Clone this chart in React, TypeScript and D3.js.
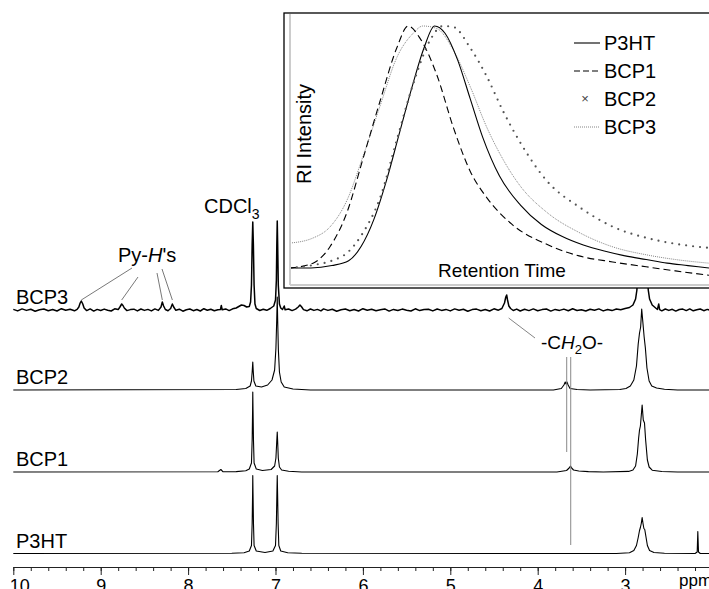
import React, { useEffect, useRef } from 'react';
import * as d3 from 'd3';

type Pt = [number, number];

const FONT = '"Liberation Sans", Arial, Helvetica, sans-serif';

// 1H NMR traces: [ppm, intensity above the trace baseline]
const p3ht: Pt[] = [
  [10.0, 0], [7.5, 0.2], [7.36, 0.8], [7.3, 2.5], [7.275, 8], [7.267, 30], [7.262, 60], [7.26, 78],
  [7.257, 60], [7.252, 30], [7.245, 8], [7.22, 2.5], [7.12, 1], [7.03, 2.5], [7.0, 8], [6.99, 30],
  [6.984, 60], [6.98, 78], [6.976, 60], [6.97, 30], [6.962, 8], [6.94, 2.5], [6.86, 0.8], [6.7, 0.2],
  [3.1, 0], [2.95, 0.8], [2.9, 3], [2.87, 8], [2.85, 16], [2.835, 23], [2.825, 26], [2.815, 30],
  [2.805, 36], [2.795, 30], [2.785, 25], [2.775, 24], [2.76, 16], [2.745, 8], [2.72, 3], [2.67, 1],
  [2.55, 0.3], [2.2, 0], [2.175, 1.5], [2.168, 22], [2.16, 1.5], [2.14, 0], [2.04, 0],
];

const bcp1: Pt[] = [
  [10.0, 0], [7.66, 0.2], [7.625, 2.5], [7.6, 0.2], [7.45, 0.4], [7.34, 1.2], [7.3, 3], [7.275, 9],
  [7.267, 32], [7.262, 62], [7.26, 80], [7.257, 62], [7.252, 32], [7.245, 9], [7.22, 3], [7.15, 1.5],
  [7.05, 2.5], [7.01, 6], [6.995, 14], [6.986, 30], [6.98, 40], [6.975, 30], [6.968, 14], [6.955, 5],
  [6.93, 2], [6.85, 0.8], [6.7, 0], [3.78, 0], [3.67, 1.5], [3.64, 4], [3.625, 6], [3.612, 4],
  [3.59, 2], [3.53, 1], [3.42, 0.4], [3.25, 0], [2.96, 0.6], [2.91, 2], [2.88, 6], [2.86, 18],
  [2.845, 34], [2.835, 42], [2.825, 46], [2.805, 67], [2.792, 52], [2.778, 49], [2.765, 32], [2.745, 12],
  [2.725, 5], [2.69, 1.8], [2.58, 0.5], [2.4, 0], [2.04, 0],
];

const bcp2: Pt[] = [
  [10.0, 0], [7.45, 0.5], [7.34, 1.5], [7.29, 4], [7.275, 9], [7.267, 18], [7.26, 28], [7.254, 18],
  [7.247, 9], [7.225, 4], [7.16, 3], [7.09, 5], [7.04, 10], [7.01, 20], [6.995, 42], [6.986, 70],
  [6.98, 93], [6.975, 70], [6.967, 40], [6.955, 18], [6.935, 8], [6.9, 3], [6.8, 1], [6.6, 0],
  [3.82, 0], [3.73, 1.5], [3.7, 5], [3.685, 8], [3.675, 6], [3.665, 8], [3.652, 5], [3.63, 1.5],
  [3.55, 0.5], [3.4, 0], [3.06, 0.5], [2.99, 1.5], [2.94, 4], [2.9, 10], [2.87, 24], [2.85, 46],
  [2.835, 57], [2.822, 63], [2.81, 81], [2.797, 68], [2.782, 53], [2.768, 42], [2.75, 22], [2.725, 9],
  [2.695, 4], [2.64, 2], [2.55, 0.8], [2.4, 0], [2.04, 0],
];

const bcp3: Pt[] = [
  [10.0, 0.6], [9.95, -0.9], [9.9, 1.1], [9.85, -0.4], [9.8, 0.8], [9.75, -1.2], [9.7, 0.3], [9.65, 1.0],
  [9.6, -0.7], [9.55, 0.5], [9.5, -1.0], [9.45, 1.3], [9.4, -0.3], [9.35, 0.7], [9.3, -0.8], [9.27, 0.6],
  [9.25, 3], [9.235, 7], [9.222, 9], [9.205, 6], [9.19, 2], [9.16, -0.6], [9.12, 1.1], [9.08, -1.1],
  [9.04, 0.6], [9.0, -0.5], [8.96, 0.9], [8.92, -0.2], [8.88, -1.0], [8.84, 1.2], [8.8, 0.4], [8.78, 3],
  [8.76, 6], [8.745, 4.5], [8.73, 2], [8.7, -0.6], [8.66, 0.4], [8.62, 0.8], [8.58, -0.9], [8.54, 1.0],
  [8.5, -0.4], [8.46, 0.6], [8.42, -0.9], [8.38, 1.1], [8.34, -0.4], [8.31, 3], [8.295, 8], [8.28, 4],
  [8.26, 0.5], [8.23, -0.7], [8.2, 1.5], [8.18, 6], [8.165, 3], [8.14, -0.3], [8.1, 0.8], [8.06, -1.2],
  [8.02, 0.3], [7.98, 1.0], [7.94, -0.7], [7.9, 0.5], [7.86, -1.0], [7.82, 1.3], [7.78, -0.3], [7.74, 0.7],
  [7.7, -0.8], [7.66, 0.2], [7.63, 0.5], [7.62, 4.5], [7.61, 0.2], [7.57, 1.1], [7.53, -0.6], [7.49, 1.2],
  [7.45, 2.0], [7.42, 3.5], [7.39, 5], [7.36, 4.5], [7.33, 3], [7.3, 3.5], [7.285, 8], [7.275, 25],
  [7.267, 65], [7.26, 88], [7.253, 65], [7.245, 25], [7.235, 6], [7.22, 1.5], [7.18, -0.5], [7.14, 0.8],
  [7.1, -0.3], [7.06, 1.5], [7.02, 4], [7.0, 10], [6.99, 30], [6.985, 65], [6.98, 89], [6.975, 65],
  [6.968, 25], [6.955, 6], [6.94, 2], [6.92, 0.5], [6.9, 4], [6.89, 0.2], [6.85, 1.0], [6.81, -0.6],
  [6.77, 0.9], [6.74, 3], [6.72, 5], [6.7, 3], [6.68, 0.4], [6.64, -0.8], [6.6, 1.0], [6.56, -0.4],
  [6.52, 0.6], [6.48, -0.9], [6.45, 1.1], [6.4, -0.4], [6.35, 0.8], [6.3, -1.2], [6.25, 0.3], [6.2, 1.0],
  [6.15, -0.7], [6.1, 0.5], [6.05, -1.0], [6.0, 1.3], [5.95, -0.3], [5.9, 0.7], [5.85, -0.8], [5.8, 0.2],
  [5.75, 1.1], [5.7, -1.1], [5.65, 0.6], [5.6, -0.5], [5.55, 0.9], [5.5, -0.2], [5.45, -1.0], [5.4, 1.2],
  [5.35, -0.6], [5.3, 0.4], [5.25, 0.8], [5.2, -0.9], [5.15, 1.0], [5.1, -0.4], [5.05, 0.6], [5.0, -0.9],
  [4.95, 1.1], [4.9, -0.3], [4.85, 0.8], [4.8, -1.2], [4.75, 0.4], [4.7, 0.9], [4.65, -0.7], [4.6, 0.5],
  [4.55, -1.0], [4.5, 1.2], [4.45, -0.2], [4.41, 1.5], [4.38, 7], [4.365, 13], [4.355, 15], [4.345, 10],
  [4.33, 4], [4.31, 1.5], [4.28, -0.5], [4.24, 0.9], [4.2, -1.0], [4.15, 0.7], [4.1, -0.6], [4.05, 1.1],
  [4.0, -0.8], [3.95, 0.4], [3.9, 1.0], [3.85, -1.1], [3.8, 0.6], [3.75, -0.4], [3.7, 0.9], [3.65, -0.7],
  [3.6, 1.2], [3.55, -0.5], [3.5, 0.3], [3.45, -1.0], [3.4, 0.8], [3.35, -0.3], [3.3, 1.1], [3.25, -0.9],
  [3.2, 0.5], [3.15, -0.6], [3.1, 1.0], [3.05, 0.2], [3.0, 1.5], [2.95, 2.5], [2.91, 5], [2.88, 11],
  [2.865, 20], [2.855, 40], [2.845, 80], [2.8, 110], [2.755, 80], [2.745, 40], [2.735, 20], [2.72, 11],
  [2.69, 5], [2.65, 2], [2.63, 0.6], [2.615, 6], [2.605, 0.4], [2.58, -0.8], [2.54, 1.0], [2.5, -0.4],
  [2.46, 0.7], [2.42, -1.1], [2.38, 0.5], [2.34, 0.9], [2.3, -0.6], [2.26, 1.1], [2.22, -0.8], [2.18, 0.3],
  [2.14, 1.0], [2.1, -0.7], [2.06, 0.6], [2.02, -0.4],
];

const sampleNames = ['BCP3', 'BCP2', 'BCP1', 'P3HT'];
const spectra: Pt[][] = [bcp3, bcp2, bcp1, p3ht];
const ppmTicks = [10, 9, 8, 7, 6, 5, 4, 3];
const pyPeaks = [9.222, 8.76, 8.295, 8.18];
const ch2oPeaks = [3.668, 3.622];

// GPC inset: [retention time (a.u.), normalised RI intensity]
const gpcP3HT: Pt[] = [
  [0, 0], [5, 0], [10, 0.01], [14, 0.03], [17, 0.09], [20, 0.2], [23, 0.36], [26, 0.55], [29, 0.74],
  [32, 0.91], [34.5, 1.0], [37, 0.97], [40, 0.86], [43, 0.7], [46, 0.54], [50, 0.38], [55, 0.26],
  [60, 0.18], [65, 0.13], [70, 0.095], [75, 0.07], [80, 0.05], [85, 0.035], [90, 0.02], [95, 0.01], [100, 0],
];
const gpcBCP1: Pt[] = [
  [0, 0], [5.5, 0.02], [9.5, 0.087], [13.6, 0.23], [17.4, 0.45], [21.5, 0.69], [25.5, 0.91], [28.2, 1.0],
  [31, 0.95], [35, 0.8], [39, 0.58], [43, 0.4], [47, 0.29], [53, 0.18], [61, 0.1], [69, 0.05],
  [77, 0.025], [85, 0.005], [92, -0.012], [100, -0.03],
];
const gpcBCP2: Pt[] = [
  [0, 0], [5.5, 0.012], [10, 0.03], [13.6, 0.062], [17.4, 0.145], [21.5, 0.29], [25.5, 0.53], [29.4, 0.76],
  [33.4, 0.94], [36.5, 1.0], [39, 0.996], [43, 0.91], [47, 0.79], [50.8, 0.65], [54.9, 0.52], [61.3, 0.36],
  [69.2, 0.25], [77.1, 0.17], [85.2, 0.124], [92, 0.1], [100, 0.083],
];
const gpcBCP3: Pt[] = [
  [0, 0.103], [5.5, 0.124], [9.5, 0.169], [13.6, 0.28], [17.4, 0.46], [21.5, 0.67], [25.5, 0.87],
  [29.4, 0.97], [31.7, 1.0], [35, 0.99], [39, 0.9], [43, 0.75], [47, 0.58], [50.8, 0.45], [54.9, 0.34],
  [61.3, 0.23], [69.2, 0.145], [77.1, 0.087], [85.2, 0.054], [92, 0.035], [100, 0.02],
];
const legendNames = ['P3HT', 'BCP1', 'BCP2', 'BCP3'];

const traceBase = [310, 390, 472, 553.5];

const App = () => {
  const axisRef = useRef<SVGGElement>(null);

  const x = d3.scaleLinear().domain([10, 2.04]).range([13.3, 709]);
  const yInt = d3.scaleLinear().domain([0, 100]).range([0, -100]);

  const t = d3.scaleLinear().domain([0, 100]).range([290, 709]);
  const ri = d3.scaleLinear().domain([0, 1]).range([268, 26]);
  const gpcLine = d3.line<Pt>().x(d => t(d[0])).y(d => ri(d[1])).curve(d3.curveMonotoneX);

  useEffect(() => {
    const g = d3.select(axisRef.current);
    g.selectAll('*').remove();
    g.append('g')
      .call(d3.axisBottom(x).ticks(40).tickSize(4).tickSizeOuter(0).tickFormat(() => ''));
    const major = g.append('g')
      .call(d3.axisBottom(x).tickValues(ppmTicks).tickSize(8).tickSizeOuter(0).tickFormat(d3.format('d')));
    major.select('.domain').remove();
    g.selectAll('path, line').attr('stroke', '#222').attr('stroke-width', 1);
    g.selectAll('text')
      .attr('font-family', FONT).attr('font-size', 18).attr('fill', '#000')
      .attr('dy', 0).attr('y', 25);
    major.selectAll('.tick text').filter((d: any) => d === 10).attr('text-anchor', 'start').attr('x', -4);
  }, []);

  return (
    <svg width={709} height={589} style={{ position: 'absolute', left: 0, top: 0 }} fontFamily={FONT}>
      <rect width={709} height={589} fill="#fff" />
      {/* stacked spectra */}
      {spectra.map((s, i) => {
        const line = d3.line<Pt>().x(d => x(d[0])).y(d => traceBase[i] + yInt(d[1]));
        return (
          <g key={sampleNames[i]}>
            <path d={line(s) || ''} fill="none" stroke="#000" strokeWidth={i === 0 ? 1.5 : 1.1} strokeLinejoin="round" />
            <text x={16} y={traceBase[i] - 6} fontSize={20}>{sampleNames[i]}</text>
          </g>
        );
      })}

      {/* annotations */}
      <text x={204} y={213} fontSize={20}>CDCl<tspan fontSize={14} dy={6}>3</tspan></text>
      <text x={118} y={262} fontSize={20}>Py-<tspan fontStyle="italic">H</tspan>'s</text>
      {pyPeaks.map((p, i) => {
        const tops = [[132, 268], [138, 277], [157, 273], [162, 269]];
        return (
          <line key={p} x1={tops[i][0]} y1={tops[i][1]} x2={x(p)} y2={traceBase[0] - 10}
            stroke="#555" strokeWidth={0.8} />
        );
      })}
      <line x1={x(4.355) + 2} y1={318} x2={535} y2={338} stroke="#777" strokeWidth={0.9} />
      <text x={541} y={349} fontSize={19}>-C<tspan fontStyle="italic">H</tspan><tspan fontSize={13} dy={5}>2</tspan><tspan dy={-5}>O-</tspan></text>
      <line x1={x(ch2oPeaks[0])} y1={357} x2={x(ch2oPeaks[0])} y2={452} stroke="#888" strokeWidth={1} />
      <line x1={x(ch2oPeaks[1])} y1={357} x2={x(ch2oPeaks[1])} y2={545} stroke="#888" strokeWidth={1} />

      {/* ppm axis */}
      <g ref={axisRef} transform="translate(0,567)" />
      <text x={679} y={586} fontSize={17}>ppm</text>

      {/* GPC inset */}
      <g>
        <defs>
          <clipPath id="insetClip">
            <rect x={291} y={14} width={420} height={270} />
          </clipPath>
        </defs>
        <rect x={284} y={13} width={440} height={275} fill="#fff" stroke="#000" strokeWidth={1.3} />
        <line x1={290} y1={14} x2={290} y2={285} stroke="#ccc" strokeWidth={2} />
        <line x1={290} y1={285} x2={709} y2={285} stroke="#ccc" strokeWidth={2} />
        <g clipPath="url(#insetClip)" fill="none">
          <path d={gpcLine(gpcBCP3) || ''} stroke="#777" strokeWidth={0.9} strokeDasharray="1 1" />
          <path d={gpcLine(gpcBCP1) || ''} stroke="#000" strokeWidth={1.1} strokeDasharray="7 4" />
          <path d={gpcLine(gpcP3HT) || ''} stroke="#000" strokeWidth={1.1} />
          <path d={gpcLine(gpcBCP2) || ''} stroke="#555" strokeWidth={2.2} strokeDasharray="0 7" strokeLinecap="round" />
        </g>
        <text transform="translate(311,134) rotate(-90)" textAnchor="middle" fontSize={20}>RI Intensity</text>
        <text x={502} y={277} textAnchor="middle" fontSize={19}>Retention Time</text>
        {legendNames.map((n, i) => {
          const yb = 50 + i * 28;
          const ym = yb - 7;
          return (
            <g key={n}>
              {n === 'P3HT' && <line x1={574} x2={600} y1={ym} y2={ym} stroke="#000" strokeWidth={1.1} />}
              {n === 'BCP1' && <line x1={574} x2={600} y1={ym} y2={ym} stroke="#000" strokeWidth={1.1} strokeDasharray="6 3" />}
              {n === 'BCP2' && <text x={585} y={ym + 4} textAnchor="middle" fontSize={13} fill="#444">×</text>}
              {n === 'BCP3' && <line x1={574} x2={600} y1={ym} y2={ym} stroke="#777" strokeWidth={0.9} strokeDasharray="1 1" />}
              <text x={604} y={yb} fontSize={20}>{n}</text>
            </g>
          );
        })}
      </g>
    </svg>
  );
};

export default App;
